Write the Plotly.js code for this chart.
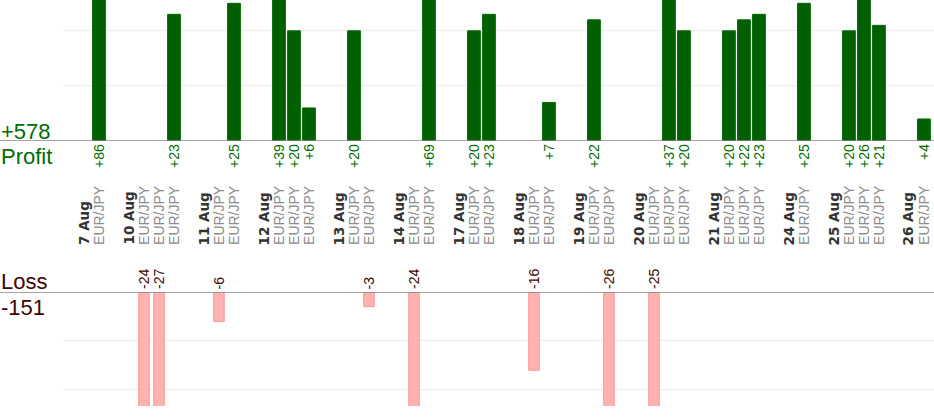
<!DOCTYPE html>
<html>
<head>
<meta charset="utf-8">
<script src="https://cdn.plot.ly/plotly-3.0.1.min.js"></script>
<style>
  html, body { margin: 0; padding: 0; background: #fff; }
  #chart { width: 934px; height: 420px; }
</style>
</head>
<body>
<div id="chart"></div>
<script>
// one entry per trade, in order
var tradeDate = ['7 Aug', '10 Aug', '10 Aug', '10 Aug', '11 Aug', '11 Aug',
  '12 Aug', '12 Aug', '12 Aug', '13 Aug', '13 Aug', '14 Aug', '14 Aug',
  '17 Aug', '17 Aug', '18 Aug', '18 Aug', '19 Aug', '19 Aug',
  '20 Aug', '20 Aug', '20 Aug', '21 Aug', '21 Aug', '21 Aug', '24 Aug',
  '25 Aug', '25 Aug', '25 Aug', '26 Aug']
var tradePair = ['EUR/JPY', 'EUR/JPY', 'EUR/JPY', 'EUR/JPY', 'EUR/JPY', 'EUR/JPY',
  'EUR/JPY', 'EUR/JPY', 'EUR/JPY', 'EUR/JPY', 'EUR/JPY', 'EUR/JPY', 'EUR/JPY',
  'EUR/JPY', 'EUR/JPY', 'EUR/JPY', 'EUR/JPY', 'EUR/JPY', 'EUR/JPY',
  'EUR/JPY', 'EUR/JPY', 'EUR/JPY', 'EUR/JPY', 'EUR/JPY', 'EUR/JPY', 'EUR/JPY',
  'EUR/JPY', 'EUR/JPY', 'EUR/JPY', 'EUR/JPY']
var tradeResult = [86, -24, -27, 23, -6, 25,
  39, 20, 6, 20, -3, -24, 69,
  20, 23, -16, 7, 22, -26,
  -25, 37, 20, 20, 22, 23, 25,
  20, 26, 21, 4]

var FONT = '"Liberation Sans", Arial, sans-serif'
var GREEN = '#006e00'
var MAROON = '#3c0606'

// slot position of each trade: days are split by two empty slots
var pos = []
var dayStart = []
var slot = 0
for (var i = 0; i < tradeResult.length; i++) {
  if (i > 0) slot += tradeDate[i] === tradeDate[i - 1] ? 1 : 3
  pos.push(slot)
  if (i === 0 || tradeDate[i] !== tradeDate[i - 1]) dayStart.push(i)
}

var winX = [], winY = [], lossX = [], lossY = []
var totalWin = 0, totalLoss = 0
var annotations = []
for (i = 0; i < tradeResult.length; i++) {
  var v = tradeResult[i]
  if (v > 0) {
    winX.push(pos[i]); winY.push(v); totalWin += v
    annotations.push({
      x: pos[i], y: 0, xref: 'x', yref: 'y', text: '+' + v,
      textangle: -90, yanchor: 'top', yshift: -1, showarrow: false,
      font: { family: FONT, size: 14, color: GREEN }
    })
  } else {
    lossX.push(pos[i]); lossY.push(v); totalLoss += v
    annotations.push({
      x: pos[i], y: 0, xref: 'x', yref: 'y2', text: String(v),
      textangle: -90, yanchor: 'bottom', yshift: 1, showarrow: false,
      font: { family: FONT, size: 14, color: MAROON }
    })
  }
  annotations.push({
    x: pos[i], y: 0.412, xref: 'x', yref: 'paper', text: tradePair[i],
    textangle: -90, yanchor: 'bottom', showarrow: false,
    font: { family: FONT, size: 14, color: '#8c8c8c' }
  })
}
dayStart.forEach(function (d) {
  annotations.push({
    x: pos[d] - 1, y: 0.412, xref: 'x', yref: 'paper', text: '<b>' + tradeDate[d] + '</b>',
    textangle: -90, yanchor: 'bottom', showarrow: false,
    font: { family: '"DejaVu Sans", sans-serif', size: 13.5, color: '#333333' }
  })
})

// totals on the left
var leftX = -64 / 871
function sideLabel (txt, y, color) {
  return {
    x: leftX, y: y, xref: 'paper', yref: 'paper', xanchor: 'left', yanchor: 'middle',
    showarrow: false, text: txt, font: { family: FONT, size: 22, color: color }
  }
}
annotations.push(
  sideLabel('+' + totalWin, 0.688, GREEN),
  sideLabel('Profit', 0.628, GREEN),
  sideLabel('Loss', 0.33, MAROON),
  sideLabel(String(totalLoss), 0.268, MAROON)
)

var traces = [
  {
    type: 'bar', x: winX, y: winY, xaxis: 'x', yaxis: 'y', width: 0.85,
    marker: { color: '#005f00', line: { color: '#006a00', width: 1 } },
    hoverinfo: 'skip'
  },
  {
    type: 'bar', x: lossX, y: lossY, xaxis: 'x', yaxis: 'y2', width: 0.7,
    marker: { color: '#ffb2b2', line: { color: '#ff9595', width: 1 } },
    hoverinfo: 'skip'
  }
]

var layout = {
  width: 934,
  height: 420,
  margin: { l: 63, r: 0, t: 0, b: 0 },
  paper_bgcolor: '#ffffff',
  plot_bgcolor: '#ffffff',
  showlegend: false,
  xaxis: {
    range: [-2.4, 55.67], showgrid: false, zeroline: false,
    showticklabels: false, ticks: '', fixedrange: true
  },
  yaxis: {
    domain: [1 - 141 / 420, 1], range: [0, 25.6], tickvals: [10, 20],
    showticklabels: false, gridcolor: '#ececec', zeroline: false, fixedrange: true
  },
  yaxis2: {
    domain: [14 / 420, 128 / 420], range: [-23.3, 0], tickvals: [-10, -20],
    showticklabels: false, gridcolor: '#ececec', zeroline: false, fixedrange: true,
    anchor: 'x'
  },
  shapes: [
    { type: 'line', xref: 'paper', yref: 'y', x0: -63 / 871, x1: 1, y0: 0, y1: 0,
      line: { color: '#858585', width: 1.5 } },
    { type: 'line', xref: 'paper', yref: 'y2', x0: -63 / 871, x1: 1, y0: 0, y1: 0,
      line: { color: '#858585', width: 1.5 } }
  ],
  annotations: annotations
}

Plotly.newPlot('chart', traces, layout, { displayModeBar: false, staticPlot: true })
</script>
</body>
</html>
